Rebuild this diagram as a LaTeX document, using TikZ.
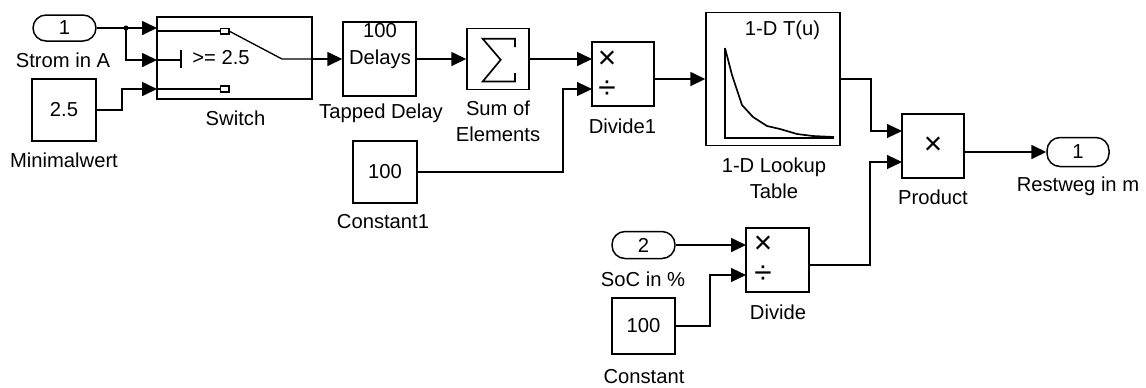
\documentclass[tikz,border=0pt]{standalone}
\usepackage{fontspec}
\setmainfont{Liberation Sans}
\usetikzlibrary{arrows.meta}
\newcommand\simb{\fontsize{18}{18}\selectfont}
\tikzset{
  bloque/.style={draw,line width=0.85pt,inner sep=0pt,align=center},
  puerto/.style={draw,line width=0.85pt,rounded corners=0.26cm,inner sep=0pt},
  etiq/.style={inner sep=0pt,align=center},
  senal/.style={->,line width=0.95pt},
  fina/.style={->,line width=0.65pt},
}
\begin{document}
\begin{tikzpicture}[x=0.02cm,y=-0.02cm,>={Triangle[length=0.3cm,width=0.28cm]},
    font=\fontsize{11.5}{15}\selectfont]
  \useasboundingbox (0,0) rectangle (1146,387);

  % Bloques
  \node[puerto, minimum width=1.26cm, minimum height=0.52cm] (in1) at (64.5,28) {1};
  \node[bloque, minimum width=1.28cm, minimum height=1.24cm] (minw) at (64,110) {2.5};
  \node[bloque, minimum width=3.1cm, minimum height=1.64cm] (sw) at (234.5,58) {};
  \node[bloque, minimum width=1.46cm, minimum height=1.48cm] (tdl) at (379.5,59) {};
  \node[etiq] (tdlt) at (380,46) {100\\Delays};
  \node[bloque, minimum width=1.24cm, minimum height=1.22cm] (sum) at (498,59) {};
  \node[bloque, minimum width=1.24cm, minimum height=1.28cm] (div1) at (623,74) {};
  \node[bloque, minimum width=1.28cm, minimum height=1.24cm] (c1) at (385,172) {100};
  \node[bloque, minimum width=2.68cm, minimum height=2.66cm] (lut) at (773,79) {};
  \node[etiq] (lutt) at (782.5,30) {1-D T(u)};
  \node[bloque, minimum width=1.24cm, minimum height=1.28cm, font=\simb] (prod) at (933,146) {×};
  \node[puerto, minimum width=1.24cm, minimum height=0.58cm] (out1) at (1078,152) {1};
  \node[puerto, minimum width=1.26cm, minimum height=0.54cm] (in2) at (643.5,245) {2};
  \node[bloque, minimum width=1.26cm, minimum height=1.28cm] (div) at (777.5,260) {};
  \node[bloque, minimum width=1.26cm, minimum height=1.12cm] (c) at (643.5,326) {100};

  % Etiquetas
  \node[etiq] (in1l) at (63,60) {Strom in A};
  \node[etiq] (minwl) at (64,160) {Minimalwert};
  \node[etiq] (swl) at (235.5,118) {Switch};
  \node[etiq] (tdll) at (381,113) {Tapped Delay};
  \node[etiq] (suml) at (498,121.5) {Sum of\\Elements};
  \node[etiq] (div1l) at (622.5,126) {Divide1};
  \node[etiq] (c1l) at (383,222) {Constant1};
  \node[etiq] (lutl) at (774,178.5) {1-D Lookup\\Table};
  \node[etiq] (prodl) at (933,197) {Product};
  \node[etiq] (out1l) at (1078,186) {Restweg in m};
  \node[etiq] (in2l) at (643,279) {SoC in \%};
  \node[etiq] (divl) at (778,312) {Divide};
  \node[etiq] (cl) at (644,377) {Constant};

  % Puertos de entrada y salida
  \coordinate (sw-u1) at (157,28);
  \coordinate (sw-u2) at (157,60);
  \coordinate (sw-u3) at (157,89);
  \coordinate (sw-y) at (312,59);
  \coordinate (div1-u1) at (592,59);
  \coordinate (div1-u2) at (592,89);
  \coordinate (div1-y) at (654,79);
  \coordinate (prod-u1) at (902,131);
  \coordinate (prod-u2) at (902,162);
  \coordinate (prod-y) at (964,152);
  \coordinate (div-u1) at (746,245);
  \coordinate (div-u2) at (746,275);
  \coordinate (div-y) at (809,265);

  % Signos de producto y cociente
  \node[etiq, font=\simb] (div1m) at (607,60) {×};
  \node[etiq, font=\simb] (div1d) at (607,90) {÷};
  \node[etiq, font=\simb] (divm) at (763,245) {×};
  \node[etiq, font=\simb] (divd) at (763,275) {÷};

  % Interior del switch
  \draw[line width=0.75pt] (157,31) -- (220.5,31);
  \draw[line width=0.75pt] (220.5,28.5) rectangle (229,34);
  \draw[line width=0.75pt] (229,31) -- (282,59) -- (sw-y);
  \draw[line width=0.75pt] (157,89) -- (220.5,89);
  \draw[line width=0.75pt] (220.5,86) rectangle (229,92);
  \draw[line width=0.75pt] (157,60) -- (181,60);
  \draw[line width=0.75pt] (181,50) -- (181,68);
  \node[etiq] (swt) at (221,58) {>= 2.5};

  % Sumatorio
  \begin{scope}[shift={(sum.center)}]
    \draw[line width=0.95pt] (17,-11.8) -- (17,-20.2) -- (-15.3,-20.2) -- (2.7,0.8)
      -- (-15.3,22.5) -- (17,22.5) -- (17,14.2);
  \end{scope}

  % Tabla
  \draw[line width=0.95pt] (725,48) -- (725,138) -- (834,138);
  \draw[line width=0.95pt] plot coordinates {(725,48) (732,75) (742,105) (753,117)
    (767,126) (780,129) (797,134) (813,136) (834,137)};

  % Conexiones
  \coordinate (nudo) at (126,28);
  \fill (nudo) circle (0.05cm);
  \draw[senal] (in1.east) -- (sw-u1);
  \draw[senal] (nudo) |- (sw-u2);
  \coordinate (k1) at (122,100);
  \draw[senal] (minw.east) -| (k1) |- (sw-u3);
  \draw[senal] (sw-y) -- (tdl.west);
  \draw[senal] (tdl.east) -- (sum.west);
  \draw[senal] (sum.east) -- (div1-u1);
  \coordinate (k2) at (563,120);
  \draw[fina] (c1.east) -| (k2) |- (div1-u2);
  \draw[senal] (div1-y) -- (lut.west);
  \coordinate (k3) at (871,100);
  \draw[fina] (lut.east) -| (k3) |- (prod-u1);
  \coordinate (k4) at (870,200);
  \draw[fina] (div-y) -| (k4) |- (prod-u2);
  \draw[senal] (prod-y) -- (out1.west);
  \draw[senal] (in2.east) -- (div-u1);
  \coordinate (k5) at (710,300);
  \draw[fina] (c.east) -| (k5) |- (div-u2);
\end{tikzpicture}
\end{document}
